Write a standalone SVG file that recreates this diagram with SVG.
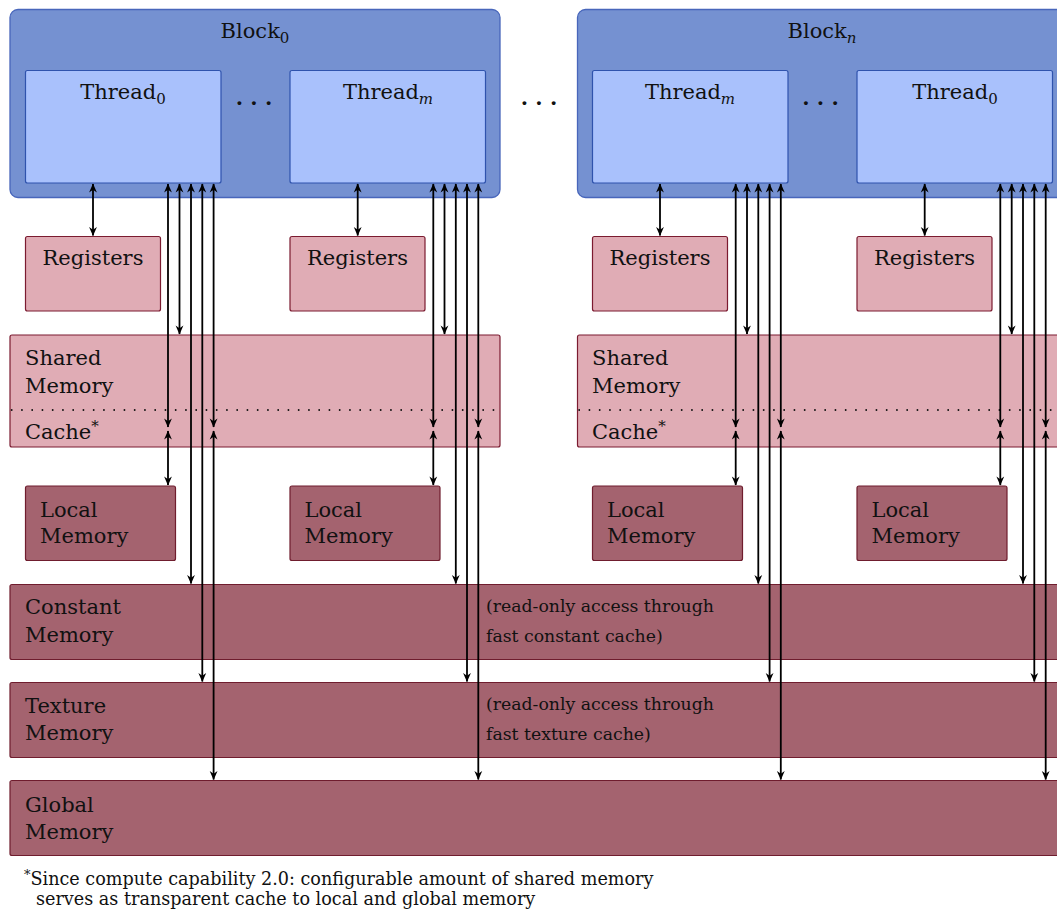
<svg xmlns="http://www.w3.org/2000/svg" width="1057" height="910" viewBox="0 0 1057 910">
<defs>
<style>
text{font-family:"DejaVu Serif","Liberation Serif",serif;fill:#111;}
.lbl{font-size:21px;}
.sm{font-size:17.3px;}
.fn{font-size:17.6px;}
.c{text-anchor:middle;}
.block{fill:#7591d1;stroke:#4866bb;stroke-width:1.3;}
.thread{fill:#a9c1fc;stroke:#2f53ad;stroke-width:1.2;}
.light{fill:#e0acb5;stroke:#7b1b30;stroke-width:1.2;}
.dark{fill:#a4636f;stroke:#6f1d2e;stroke-width:1.2;}
.dots{stroke:#111;stroke-width:1.9;stroke-linecap:round;stroke-dasharray:0 10.25;fill:none;}
.ar{stroke:#000;stroke-width:1.8;fill:none;marker-start:url(#ah);marker-end:url(#ah);}
</style>
<marker id="ah" markerUnits="userSpaceOnUse" viewBox="-10 -5 11 10" refX="0" refY="0" markerWidth="11" markerHeight="10" orient="auto-start-reverse">
<path d="M0.6,0 L-8.5,-3.9 L-5.8,0 L-8.5,3.9 Z" fill="#000"/>
</marker>
</defs>

<g id="block0">
<rect class="block" x="10" y="9.5" width="490" height="188" rx="8"/>
<text class="lbl c" x="255" y="38">Block<tspan font-size="15" dy="5">0</tspan></text>
<text class="lbl c" x="254" y="105" font-weight="bold">. . .</text>
</g>
<g id="thread0-b0">
<rect class="thread" x="25.5" y="70.5" width="195.5" height="112.5" rx="2"/>
<text class="lbl c" x="123" y="99">Thread<tspan font-size="15" dy="5">0</tspan></text>
</g>
<g id="threadm-b0">
<rect class="thread" x="290" y="70.5" width="195.5" height="112.5" rx="2"/>
<text class="lbl c" x="388" y="99">Thread<tspan font-size="15" dy="5" font-style="italic">m</tspan></text>
</g>

<text class="lbl c" x="539" y="105" font-weight="bold">. . .</text>

<g id="blockn">
<rect class="block" x="577.5" y="9.5" width="490" height="188" rx="8"/>
<text class="lbl c" x="822" y="38">Block<tspan font-size="15" dy="5" font-style="italic">n</tspan></text>
<text class="lbl c" x="820.5" y="105" font-weight="bold">. . .</text>
</g>
<g id="threadm-bn">
<rect class="thread" x="592.5" y="70.5" width="195.5" height="112.5" rx="2"/>
<text class="lbl c" x="690" y="99">Thread<tspan font-size="15" dy="5" font-style="italic">m</tspan></text>
</g>
<g id="thread0-bn">
<rect class="thread" x="857" y="70.5" width="195.5" height="112.5" rx="2"/>
<text class="lbl c" x="955" y="99">Thread<tspan font-size="15" dy="5">0</tspan></text>
</g>

<g id="registers-1"><rect class="light" x="25.5" y="236.5" width="135" height="74.5" rx="2"/><text class="lbl c" x="93" y="265">Registers</text></g>
<g id="registers-2"><rect class="light" x="290" y="236.5" width="135" height="74.5" rx="2"/><text class="lbl c" x="357.5" y="265">Registers</text></g>
<g id="registers-3"><rect class="light" x="592.5" y="236.5" width="135" height="74.5" rx="2"/><text class="lbl c" x="660" y="265">Registers</text></g>
<g id="registers-4"><rect class="light" x="857" y="236.5" width="135" height="74.5" rx="2"/><text class="lbl c" x="924.5" y="265">Registers</text></g>

<g id="shared-b0">
<rect class="light" x="10" y="335" width="490" height="112" rx="2"/>
<line class="dots" x1="11.7" y1="410" x2="495" y2="410"/>
<text class="lbl" x="25" y="365">Shared</text>
<text class="lbl" x="25" y="393">Memory</text>
<text class="lbl" x="25" y="438.5">Cache<tspan font-size="15" dy="-8">*</tspan></text>
</g>
<g id="shared-bn">
<rect class="light" x="577.5" y="335" width="490" height="112" rx="2"/>
<line class="dots" x1="579.2" y1="410" x2="1062" y2="410"/>
<text class="lbl" x="592" y="365">Shared</text>
<text class="lbl" x="592" y="393">Memory</text>
<text class="lbl" x="592" y="438.5">Cache<tspan font-size="15" dy="-8">*</tspan></text>
</g>

<g id="local-1"><rect class="dark" x="25.5" y="486" width="150" height="74.5" rx="2"/><text class="lbl" x="40" y="517">Local</text><text class="lbl" x="40" y="543">Memory</text></g>
<g id="local-2"><rect class="dark" x="290" y="486" width="150" height="74.5" rx="2"/><text class="lbl" x="304.5" y="517">Local</text><text class="lbl" x="304.5" y="543">Memory</text></g>
<g id="local-3"><rect class="dark" x="592.5" y="486" width="150" height="74.5" rx="2"/><text class="lbl" x="607" y="517">Local</text><text class="lbl" x="607" y="543">Memory</text></g>
<g id="local-4"><rect class="dark" x="857" y="486" width="150" height="74.5" rx="2"/><text class="lbl" x="871.5" y="517">Local</text><text class="lbl" x="871.5" y="543">Memory</text></g>

<g id="constant">
<rect class="dark" x="10" y="584.5" width="1060" height="75" rx="2"/>
<text class="lbl" x="25" y="613.5">Constant</text>
<text class="lbl" x="25" y="642">Memory</text>
<text class="sm" x="486" y="611.5">(read-only access through</text>
<text class="sm" x="486" y="641.5">fast constant cache)</text>
</g>
<g id="texture">
<rect class="dark" x="10" y="682.5" width="1060" height="75" rx="2"/>
<text class="lbl" x="25" y="713">Texture</text>
<text class="lbl" x="25" y="740">Memory</text>
<text class="sm" x="486" y="709.5">(read-only access through</text>
<text class="sm" x="486" y="740">fast texture cache)</text>
</g>
<g id="global">
<rect class="dark" x="10" y="780.5" width="1060" height="75" rx="2"/>
<text class="lbl" x="25" y="811.5">Global</text>
<text class="lbl" x="25" y="838.5">Memory</text>
</g>

<g id="footnote">
<text class="fn" x="24" y="885"><tspan font-size="13" dy="-6">*</tspan><tspan dy="6">Since compute capability 2.0: configurable amount of shared memory</tspan></text>
<text class="fn" x="36" y="905">serves as transparent cache to local and global memory</text>
</g>

<g id="connectors">
<line class="ar" x1="93" y1="184" x2="93" y2="235.5"/>
<line class="ar" x1="357.7" y1="184" x2="357.7" y2="235.5"/>
<line class="ar" x1="660" y1="184" x2="660" y2="235.5"/>
<line class="ar" x1="924.7" y1="184" x2="924.7" y2="235.5"/>

<line class="ar" x1="168" y1="184" x2="168" y2="427"/>
<line class="ar" x1="168" y1="431" x2="168" y2="485"/>
<line class="ar" x1="179.5" y1="184" x2="179.5" y2="334"/>
<line class="ar" x1="191" y1="184" x2="191" y2="583.5"/>
<line class="ar" x1="202.3" y1="184" x2="202.3" y2="681.5"/>
<line class="ar" x1="213.6" y1="184" x2="213.6" y2="427"/>
<line class="ar" x1="213.6" y1="431" x2="213.6" y2="779.5"/>

<line class="ar" x1="433.3" y1="184" x2="433.3" y2="427"/>
<line class="ar" x1="433.3" y1="431" x2="433.3" y2="485"/>
<line class="ar" x1="444.5" y1="184" x2="444.5" y2="334"/>
<line class="ar" x1="455.8" y1="184" x2="455.8" y2="583.5"/>
<line class="ar" x1="467" y1="184" x2="467" y2="681.5"/>
<line class="ar" x1="478.3" y1="184" x2="478.3" y2="427"/>
<line class="ar" x1="478.3" y1="431" x2="478.3" y2="779.5"/>

<line class="ar" x1="735.7" y1="184" x2="735.7" y2="427"/>
<line class="ar" x1="735.7" y1="431" x2="735.7" y2="485"/>
<line class="ar" x1="747" y1="184" x2="747" y2="334"/>
<line class="ar" x1="758.3" y1="184" x2="758.3" y2="583.5"/>
<line class="ar" x1="769.6" y1="184" x2="769.6" y2="681.5"/>
<line class="ar" x1="780.8" y1="184" x2="780.8" y2="427"/>
<line class="ar" x1="780.8" y1="431" x2="780.8" y2="779.5"/>

<line class="ar" x1="1000.3" y1="184" x2="1000.3" y2="427"/>
<line class="ar" x1="1000.3" y1="431" x2="1000.3" y2="485"/>
<line class="ar" x1="1011.7" y1="184" x2="1011.7" y2="334"/>
<line class="ar" x1="1023" y1="184" x2="1023" y2="583.5"/>
<line class="ar" x1="1034.3" y1="184" x2="1034.3" y2="681.5"/>
<line class="ar" x1="1045.7" y1="184" x2="1045.7" y2="427"/>
<line class="ar" x1="1045.7" y1="431" x2="1045.7" y2="779.5"/>
</g>
</svg>
